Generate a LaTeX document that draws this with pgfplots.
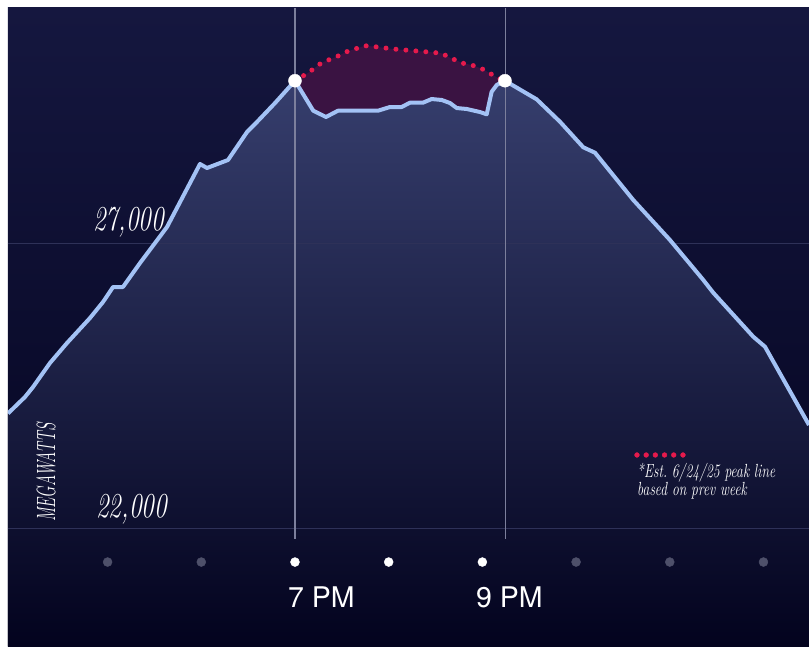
\documentclass[border=0pt]{standalone}
\usepackage{pgfplots}
\pgfplotsset{compat=1.18}
\usepackage{pgfplotstable}
\usepackage{graphicx}
\usepackage{fontspec}
\newfontfamily\grotesk{TeX Gyre Heros}

\definecolor{bgtop}{HTML}{15173F}
\definecolor{bgbot}{HTML}{03031E}
\definecolor{areatop}{HTML}{363E6D}
\definecolor{areamid}{HTML}{191D4C}
\definecolor{areabot}{HTML}{03031E}
\definecolor{linec}{HTML}{A3C2F5}
\definecolor{peakred}{HTML}{E51A4C}
\definecolor{peakfill}{HTML}{3A1342}
\definecolor{gridc}{HTML}{2E3158}
\definecolor{vlinec}{HTML}{7C7F9C}
\definecolor{dotgray}{HTML}{4E506A}

% Demand through the evening (hour of day, megawatts)
\pgfplotstableread{
x       y
15.937  24010
16.118  24298
16.204  24474
16.385  24895
16.567  25246
16.812  25684
16.951  25965
17.058  26228
17.164  26228
17.346  26649
17.634  27281
17.986  28386
18.061  28316
18.285  28456
18.488  28947
18.594  29123
18.787  29456
19.000  29847
19.195  29321
19.331  29211
19.459  29321
19.886  29321
20.014  29386
20.139  29386
20.227  29462
20.366  29462
20.459  29526
20.566  29509
20.654  29456
20.726  29368
20.833  29351
20.974  29298
21.046  29258
21.099  29654
21.153  29772
21.241  29847
21.579  29521
21.828  29128
22.077  28679
22.202  28584
22.611  27754
23.002  27053
23.358  26351
23.464  26128
23.891  25356
24.016  25181
24.486  23807
}\demand

% Estimated peak line based on the previous week
\pgfplotstableread{
x       y
19.000  29847
19.139  29983
19.285  30163
19.445  30269
19.552  30356
19.747  30461
19.854  30444
20.046  30404
20.259  30374
20.459  30346
20.566  30328
20.654  30251
20.793  30153
20.886  30123
21.006  30048
21.166  29895
21.241  29847
}\estpeak

% Gap between the estimate and the actual load (closed outline)
\pgfplotstableread{
x       y
19.000  29847
19.139  29983
19.285  30163
19.445  30269
19.552  30356
19.747  30461
19.854  30444
20.046  30404
20.259  30374
20.459  30346
20.566  30328
20.654  30251
20.793  30153
20.886  30123
21.006  30048
21.166  29895
21.241  29847
21.153  29772
21.099  29654
21.046  29258
20.974  29298
20.833  29351
20.726  29368
20.654  29456
20.566  29509
20.459  29526
20.366  29462
20.227  29462
20.139  29386
20.014  29386
19.886  29321
19.459  29321
19.331  29211
19.195  29321
19.000  29847
}\gap

\begin{document}
\begin{tikzpicture}
\fill[white] (-8pt,0pt) rectangle (801pt,646pt);
\begin{axis}[
  at={(0pt,0pt)}, anchor=south west,
  width=801pt, height=638pt, scale only axis,
  xmin=15.937, xmax=24.486, ymin=19930, ymax=31123,
  axis lines=none,
  axis background/.style={top color=bgtop, bottom color=bgbot},
]
% area under the load curve
\addplot[draw=none, top color=areatop, middle color=areamid, bottom color=areabot] table[x=x,y=y] {\demand} \closedcycle;
% shaded gap below the estimated peak
\addplot[draw=none, fill=peakfill] table[x=x,y=y] {\gap};

% reference lines
\draw[gridc, line width=1pt] (axis cs:15.937,27000) -- (axis cs:24.486,27000);
\draw[gridc, line width=1pt] (axis cs:15.937,22000) -- (axis cs:24.486,22000);
\draw[vlinec, line width=1.3pt] (axis cs:19,31123) -- (axis cs:19,21807);
\draw[vlinec, line width=1.3pt] (axis cs:21.245,31123) -- (axis cs:21.245,21807);

% load curve
\addplot[linec, line width=4pt, line join=round] table[x=x,y=y] {\demand};
% estimated peak
\addplot[peakred, line width=5pt, line cap=round, dash pattern=on 0pt off 10pt] table[x=x,y=y] {\estpeak};
\addplot[only marks, mark=*, mark size=6.5pt, white] coordinates {(19,29847) (21.241,29847)};

% hour markers
\addplot[only marks, mark=*, mark size=4.5pt, dotgray] coordinates {(17,21403) (18,21403) (22,21403) (23,21403) (24,21403)};
\addplot[only marks, mark=*, mark size=4.5pt, white] coordinates {(19,21403) (20,21403) (21,21403)};

% key
\addplot[only marks, mark=*, mark size=2.4pt, peakred] coordinates {(22.650,23281) (22.748,23281) (22.846,23281) (22.944,23281) (23.042,23281) (23.141,23281)};

\node[anchor=base east, white, inner sep=0pt] at (axis cs:17.602,27228)
  {\scalebox{0.72}[1]{\fontsize{35}{40}\selectfont\itshape 27,000}};
\node[anchor=base east, white, inner sep=0pt] at (axis cs:17.634,22193)
  {\scalebox{0.72}[1]{\fontsize{35}{40}\selectfont\itshape 22,000}};
\node[anchor=base west, rotate=90, white, inner sep=0pt] at (axis cs:16.439,22105)
  {\scalebox{0.585}[1]{\fontsize{26.4}{30}\selectfont\itshape MEGAWATTS}};

\node[anchor=base west, white, inner sep=0pt] at (axis cs:18.925,20614)
  {\fontsize{28.5}{32}\selectfont\grotesk 7 PM};
\node[anchor=base west, white, inner sep=0pt] at (axis cs:20.932,20614)
  {\fontsize{28.5}{32}\selectfont\grotesk 9 PM};

\node[anchor=north west, white, inner sep=0pt] at (axis cs:22.650,23140)
  {\scalebox{0.72}[1]{\fontsize{19}{17}\selectfont\itshape
    \begin{tabular}{@{}l@{}}*Est.\ 6/24/25 peak line\\ based on prev week\end{tabular}}};
\end{axis}
\end{tikzpicture}
\end{document}
